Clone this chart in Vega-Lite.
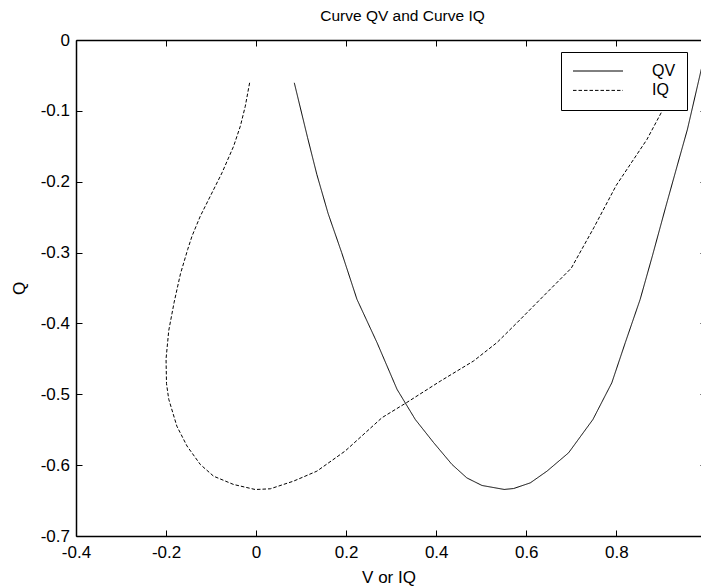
{
  "$schema": "https://vega.github.io/schema/vega-lite/v6.json",
  "width": 625,
  "height": 496,
  "autosize": {"type": "none"},
  "padding": {"left": 76, "top": 40, "right": 0, "bottom": 52},
  "background": "white",
  "title": {"text": "Curve QV and Curve IQ", "fontSize": 15.5, "font": "Liberation Sans", "fontWeight": "normal", "color": "black", "anchor": "middle", "offset": 7, "dx": 14},
  "config": {
    "view": {"stroke": null},
    "axis": {"domainColor": "black", "tickColor": "black", "labelColor": "black", "titleColor": "black", "labelFont": "Liberation Sans", "titleFont": "Liberation Sans", "labelFontSize": 17, "titleFontSize": 17, "titleFontWeight": "normal", "grid": false, "domainWidth": 1.5, "tickWidth": 1, "tickSize": -6, "labelFlush": false, "labelOverlap": false},
    "legend": {"labelFont": "Liberation Sans", "labelFontSize": 16, "labelColor": "black"}
  },
  "datasets": {
    "curves": [
      {"s": "QV", "i": 0, "v": 0.0848, "q": -0.0604},
      {"s": "QV", "i": 1, "v": 0.1144, "q": -0.138},
      {"s": "QV", "i": 2, "v": 0.135, "q": -0.19},
      {"s": "QV", "i": 3, "v": 0.16, "q": -0.245},
      {"s": "QV", "i": 4, "v": 0.19, "q": -0.3},
      {"s": "QV", "i": 5, "v": 0.224, "q": -0.366},
      {"s": "QV", "i": 6, "v": 0.2685, "q": -0.427},
      {"s": "QV", "i": 7, "v": 0.313, "q": -0.493},
      {"s": "QV", "i": 8, "v": 0.3536, "q": -0.5356},
      {"s": "QV", "i": 9, "v": 0.394, "q": -0.568},
      {"s": "QV", "i": 10, "v": 0.435, "q": -0.599},
      {"s": "QV", "i": 11, "v": 0.468, "q": -0.618},
      {"s": "QV", "i": 12, "v": 0.5017, "q": -0.6287},
      {"s": "QV", "i": 13, "v": 0.551, "q": -0.6343},
      {"s": "QV", "i": 14, "v": 0.572, "q": -0.633},
      {"s": "QV", "i": 15, "v": 0.609, "q": -0.625},
      {"s": "QV", "i": 16, "v": 0.646, "q": -0.6085},
      {"s": "QV", "i": 17, "v": 0.694, "q": -0.5826},
      {"s": "QV", "i": 18, "v": 0.748, "q": -0.5356},
      {"s": "QV", "i": 19, "v": 0.79, "q": -0.4838},
      {"s": "QV", "i": 20, "v": 0.82, "q": -0.427},
      {"s": "QV", "i": 21, "v": 0.853, "q": -0.366},
      {"s": "QV", "i": 22, "v": 0.88, "q": -0.305},
      {"s": "QV", "i": 23, "v": 0.91, "q": -0.235},
      {"s": "QV", "i": 24, "v": 0.935, "q": -0.178},
      {"s": "QV", "i": 25, "v": 0.958, "q": -0.126},
      {"s": "QV", "i": 26, "v": 0.986, "q": -0.049},
      {"s": "QV", "i": 27, "v": 0.995, "q": -0.024},
      {"s": "IQ", "i": 0, "v": -0.0144, "q": -0.0604},
      {"s": "IQ", "i": 1, "v": -0.024, "q": -0.0934},
      {"s": "IQ", "i": 2, "v": -0.035, "q": -0.1216},
      {"s": "IQ", "i": 3, "v": -0.05, "q": -0.15},
      {"s": "IQ", "i": 4, "v": -0.0757, "q": -0.1874},
      {"s": "IQ", "i": 5, "v": -0.1017, "q": -0.2204},
      {"s": "IQ", "i": 6, "v": -0.124, "q": -0.2487},
      {"s": "IQ", "i": 7, "v": -0.1424, "q": -0.2769},
      {"s": "IQ", "i": 8, "v": -0.152, "q": -0.2957},
      {"s": "IQ", "i": 9, "v": -0.168, "q": -0.33},
      {"s": "IQ", "i": 10, "v": -0.182, "q": -0.37},
      {"s": "IQ", "i": 11, "v": -0.194, "q": -0.41},
      {"s": "IQ", "i": 12, "v": -0.2, "q": -0.45},
      {"s": "IQ", "i": 13, "v": -0.199, "q": -0.485},
      {"s": "IQ", "i": 14, "v": -0.194, "q": -0.507},
      {"s": "IQ", "i": 15, "v": -0.176, "q": -0.545},
      {"s": "IQ", "i": 16, "v": -0.1535, "q": -0.573},
      {"s": "IQ", "i": 17, "v": -0.124, "q": -0.599},
      {"s": "IQ", "i": 18, "v": -0.0944, "q": -0.6156},
      {"s": "IQ", "i": 19, "v": -0.05, "q": -0.6273},
      {"s": "IQ", "i": 20, "v": -0.0018, "q": -0.6344},
      {"s": "IQ", "i": 21, "v": 0.0315, "q": -0.6334},
      {"s": "IQ", "i": 22, "v": 0.083, "q": -0.6226},
      {"s": "IQ", "i": 23, "v": 0.135, "q": -0.6085},
      {"s": "IQ", "i": 24, "v": 0.198, "q": -0.58},
      {"s": "IQ", "i": 25, "v": 0.2796, "q": -0.533},
      {"s": "IQ", "i": 26, "v": 0.3336, "q": -0.512},
      {"s": "IQ", "i": 27, "v": 0.409, "q": -0.4815},
      {"s": "IQ", "i": 28, "v": 0.483, "q": -0.453},
      {"s": "IQ", "i": 29, "v": 0.535, "q": -0.427},
      {"s": "IQ", "i": 30, "v": 0.5795, "q": -0.399},
      {"s": "IQ", "i": 31, "v": 0.631, "q": -0.366},
      {"s": "IQ", "i": 32, "v": 0.7, "q": -0.322},
      {"s": "IQ", "i": 33, "v": 0.75, "q": -0.265},
      {"s": "IQ", "i": 34, "v": 0.8, "q": -0.205},
      {"s": "IQ", "i": 35, "v": 0.868, "q": -0.1404},
      {"s": "IQ", "i": 36, "v": 0.9015, "q": -0.1005},
      {"s": "IQ", "i": 37, "v": 0.93, "q": -0.06}
    ]
  },
  "layer": [
    {
      "data": {"name": "curves"},
      "mark": {"type": "line", "color": "black", "strokeWidth": 1, "clip": true},
      "encoding": {
        "x": {"field": "v", "type": "quantitative", "scale": {"domain": [-0.4, 0.9881], "nice": false, "zero": false},
          "axis": {"orient": "bottom", "title": "V or IQ", "values": [-0.4, -0.2, 0, 0.2, 0.4, 0.6, 0.8, 1], "labelExpr": "toString(datum.value)", "labelPadding": 14, "titlePadding": 9}},
        "y": {"field": "q", "type": "quantitative", "scale": {"domain": [-0.7, 0], "nice": false, "zero": false},
          "axis": {"orient": "left", "title": "Q", "values": [0, -0.1, -0.2, -0.3, -0.4, -0.5, -0.6, -0.7], "labelExpr": "toString(datum.value)", "labelPadding": 12.5, "titlePadding": 12}},
        "order": {"field": "i", "type": "quantitative"},
        "strokeDash": {"field": "s", "type": "nominal", "scale": {"domain": ["QV", "IQ"], "range": [[1, 0], [3.5, 2]]},
          "legend": {"orient": "none", "legendX": 485, "legendY": 12, "zindex": 1, "title": null, "symbolType": "M-5,0H5", "symbolSize": 100, "symbolOffset": 18, "symbolStrokeColor": "black", "symbolStrokeWidth": 1, "strokeColor": "black", "fillColor": "white", "padding": 11, "labelOffset": 46, "rowPadding": 3.4}}
      }
    },
    {
      "data": {"name": "curves"},
      "mark": {"type": "point", "opacity": 0},
      "encoding": {
        "x": {"field": "v", "type": "quantitative", "scale": {"domain": [-0.4, 0.9881], "nice": false, "zero": false},
          "axis": {"orient": "top", "title": null, "labels": false, "values": [-0.4, -0.2, 0, 0.2, 0.4, 0.6, 0.8, 1]}},
        "y": {"field": "q", "type": "quantitative", "scale": {"domain": [-0.7, 0], "nice": false, "zero": false},
          "axis": {"orient": "right", "title": null, "labels": false, "domain": false, "offset": 5, "values": [0, -0.1, -0.2, -0.3, -0.4, -0.5, -0.6, -0.7]}}
      }
    }
  ],
  "resolve": {"axis": {"x": "independent", "y": "independent"}}
}
